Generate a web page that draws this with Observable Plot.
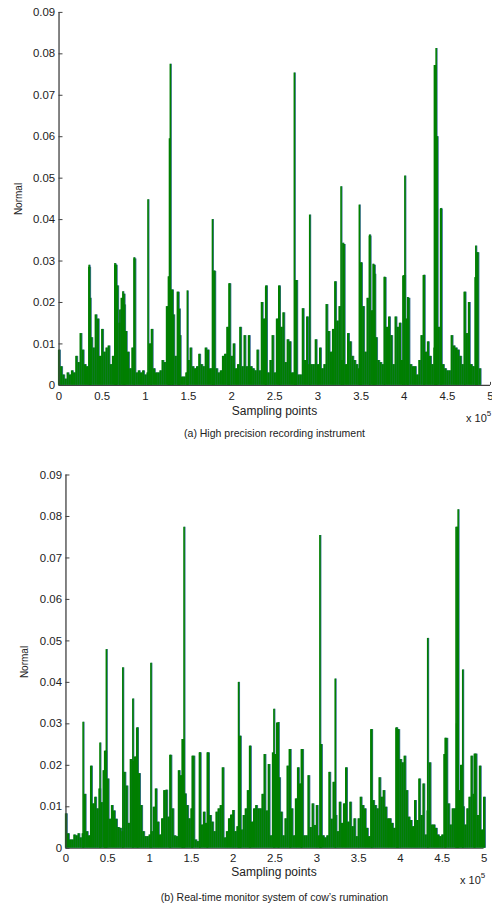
<!DOCTYPE html>
<html><head><meta charset="utf-8">
<script src="https://cdn.jsdelivr.net/npm/d3@7"></script>
<script src="https://cdn.jsdelivr.net/npm/@observablehq/plot@0.6"></script>
<style>
body{margin:0;background:#fff;font-family:"Liberation Sans",Arial,sans-serif;}
#wrap{position:relative;width:492px;height:904px;overflow:hidden;background:#fff;}
.abs{position:absolute;white-space:nowrap;line-height:1;color:#222;}
.c{transform:translate(-50%,-50%);}
.rot{transform:translate(-50%,-50%) rotate(-90deg);}
.p{position:absolute;left:0;}
</style></head><body><div id="wrap"></div>
<script>
// ---- data (x in units of 10^5 sampling points, values in units of 10^-3) ----
const gridStep = 0.025;          // spacing of the dense trace, x10^5 sampling points
const unit = 0.001;
const xTicks = [0, 0.5, 1, 1.5, 2, 2.5, 3, 3.5, 4, 4.5, 5];
const xTickLabels = ["0","0.5","1","1.5","2","2.5","3","3.5","4","4.5","5"];
const yTicks = [0, 0.01, 0.02, 0.03, 0.04, 0.05, 0.06, 0.07, 0.08, 0.09];
const yTickLabels = ["0","0.01","0.02","0.03","0.04","0.05","0.06","0.07","0.08","0.09"];

// (a) High precision recording instrument
const traceA = [
8.5,4.5,2.5,1.5,3,2.5,3.5,3,7,5.5,
12.5,8.5,5,4.5,28.5,11.5,9,17,16,7,
13.5,8,9,9.5,5,7,29,24,15,21,
22,13,8,4,9,30.5,3,3.5,3,3.5,
2.5,3,10,13.5,4,3,3,3.5,6,5.5,
19,26,23,17,7,22.5,12,2,2,3,
6,9,4.5,4,4.5,7.5,5,4.5,9,8.5,
4,4,27.5,4,3,3.5,7,7.5,14,24.5,
7,10,4,5,14,4.5,12,4.5,12,4.5,
4,3.5,8.5,3.5,20,16,24,3,6,12,
3,16,24,14,17.5,5.5,11,10.5,3,3,
25.3,2.5,2.5,18.5,6,16.5,5,5,5,11,
5,9,4,5,19.5,13,8,13.5,25,15.5,
19,6,34,5,12.5,10.5,7,6,5,4,
29.5,19,8,21,36,18,29,11.5,6,5.5,
5,26,14,16.5,12,5,16.5,14,15,6,
26.5,16,21,5,4.5,4.5,2.5,6,12,26.5,
8,10.5,7,5,9,60,14,42.5,5,4,
3.5,3.5,12,9.5,9,8.5,7,5,22.5,12.5,
20,5,4.5,26,32,4];
const peaksA_x = [0.349,0.362,0.648,0.663,0.705,0.74,0.76,0.87,1.031,1.065,1.268,1.28,1.29,1.315,1.38,1.395,1.487,1.778,1.797,1.958,1.973,2.395,2.555,2.727,2.745,2.905,3.268,3.29,3.48,3.5,3.6,3.64,3.66,3.77,3.985,4.008,4.04,4.23,4.35,4.36,4.37,4.38,4.425,4.7,4.83,4.845];
const peaksA_y = [29,21,29.4,29,18.2,22.6,19.4,30.8,44.8,9.9,26.2,59.5,77.5,23,22.4,18.4,22.8,40,27.6,13.6,24.5,23.7,23.7,75.4,25.3,41.1,47.9,34.3,43.5,29.6,36.3,29.2,26.8,26.1,26.4,50.5,21.2,26.6,77.2,77.2,81.3,60,42.7,22.4,33.6,32];

// (b) Real-time monitor system of cow's rumination
const traceB = [
8.3,3.5,2,2,3.2,3,3.5,2.5,3.5,13,
4,3,19.8,10.7,12.3,9.5,14.3,11,18.7,23.4,
16.7,7,10.3,9,7,5,4.8,4,18.3,15,
6,21.4,21,22,29,18,10.3,4,2.8,2.8,
3.2,4,9.9,14.3,6.3,3.2,7.1,13.9,14,7.5,
22.4,9.5,3,2.8,18.7,17.5,26.2,13.1,10.3,7.1,
9.5,22.2,2,1.6,23,5.6,8.7,6,23,7.9,
6.3,4,8.7,9.5,10.3,19.4,2.5,4,7.1,8,
9.1,4,5.2,27,4.4,7.9,9.5,13.9,24.6,6.3,
9.5,10.3,9.5,9.5,13,22.6,9,20.2,3,23,
22.6,30.2,17,8.7,3,7.1,19.8,23.8,9.5,3,
11.9,19.4,15.5,23.8,3,3,17.5,5,10.7,5.5,
10.3,3,25,3,2.5,3,18.3,7,15.9,7.9,
4,11.1,6,10.7,19.4,6.3,11.1,5.2,7.1,2.8,
7.1,12.3,10.3,9.5,4.8,2.8,28.6,11.5,10.3,9.5,
17,12.3,13.9,9.9,7.1,7.1,6,4.8,29,28.6,
21.4,20.6,22.2,13.9,7.5,6.7,5.2,11.5,6.7,16.7,
7.9,15.5,3.2,9,20.6,5.6,5.6,4.8,3.2,2.8,
3.2,22.6,26.5,10.7,5.6,9.5,9.5,30,13.9,20,
10,5.6,9.5,12.3,22.2,13,22.7,7.9,19.8,4.4,
12.3];
const peaksB_x = [0.205,0.407,0.463,0.483,0.68,0.80,0.855,1.016,1.245,1.39,1.412,1.51,1.60,1.69,2.064,2.085,2.2,2.487,2.54,2.68,2.815,3.037,3.05,3.22,3.655,3.955,3.97,4.326,4.535,4.665,4.68,4.69,4.745,4.884];
const peaksB_y = [30.4,25.4,23.4,47.9,43.5,36,29,44.6,22.4,26.2,77.4,22.2,23,23,40,27,24.6,33.5,30.3,23.8,23.8,75.4,25,40.8,28.6,29,28.6,50.6,26.5,77.4,77.4,81.6,43,22.7];

const captionA = "(a) High precision recording instrument";
const captionB = "(b) Real-time monitor system of cow\u2019s rumination";

const GREEN = "#007f00", BLUE = "#3d6f98", AXIS = "#404040";
const FONT = "'Liberation Sans', Arial, sans-serif";

function panel({trace, px, py, left, right, top, zero, height, xPad}) {
  const W = 496;
  const traceData = trace.map((v, i) => ({s: i * gridStep, v: v * unit}));
  const peakData = px.map((s, i) => ({s, v: py[i] * unit}));
  return Plot.plot({
    width: W, height,
    marginLeft: left, marginRight: W - right, marginTop: top, marginBottom: height - zero,
    x: {domain: [0, 5]},
    y: {domain: [0, 0.09]},
    style: {fontFamily: FONT, fontSize: "11.5px", color: "#222", background: "transparent", overflow: "visible"},
    marks: [
      Plot.axisX(xTicks, {tickSize: -3, tickPadding: xPad, stroke: AXIS, tickFormat: d => xTickLabels[xTicks.indexOf(d)], label: null}),
      Plot.ruleY([0], {x1: 0, x2: 5, stroke: AXIS, strokeWidth: 1.2}),
      Plot.ruleX(traceData, {x: "s", y1: 0, y2: "v", stroke: BLUE, strokeWidth: 2.2, dx: 0.8}),
      Plot.ruleX(peakData, {x: "s", y1: 0, y2: "v", stroke: BLUE, strokeWidth: 1.4, dx: 0.8}),
      Plot.ruleX(traceData, {x: "s", y1: 0, y2: "v", stroke: GREEN, strokeWidth: 2.2}),
      Plot.ruleX(peakData, {x: "s", y1: 0, y2: "v", stroke: GREEN, strokeWidth: 1.6}),
      Plot.ruleX([0], {y1: 0, y2: 0.09, stroke: AXIS, strokeWidth: 1.3}),
      Plot.axisY(yTicks, {tickSize: -4, tickPadding: 8, stroke: AXIS, tickFormat: d => yTickLabels[yTicks.indexOf(d)], label: null})
    ]
  });
}

const wrap = document.getElementById("wrap");
function add(el, top) { el.classList.add("p"); el.style.top = top + "px"; wrap.appendChild(el); }
function label(text, x, y, cls, size, extra) {
  const d = document.createElement("div");
  d.className = "abs " + cls;
  d.style.left = x + "px"; d.style.top = y + "px"; d.style.fontSize = size + "px";
  if (extra) Object.assign(d.style, extra);
  d.innerHTML = text;
  wrap.appendChild(d);
}

add(panel({trace: traceA, px: peaksA_x, py: peaksA_y, left: 59, right: 494, top: 12, zero: 388, height: 425, xPad: 10}), 0);
add(panel({trace: traceB, px: peaksB_x, py: peaksB_y, left: 66, right: 487.5, top: 24.7, zero: 401, height: 430, xPad: 9}), 450);

label("Normal", 18.5, 198.5, "rot", 10);
label("Sampling points", 274.5, 411, "c", 12);
label("x 10<sup style='font-size:8px;vertical-align:6px'>5</sup>", 466, 410, "", 11);
label(captionA, 274.5, 433, "c", 10.5);

label("Normal", 25, 661.5, "rot", 10);
label("Sampling points", 274, 872, "c", 12);
label("x 10<sup style='font-size:8px;vertical-align:6px'>5</sup>", 460, 872, "", 11);
label(captionB, 274.5, 897, "c", 10.5);
</script>
</body></html>
